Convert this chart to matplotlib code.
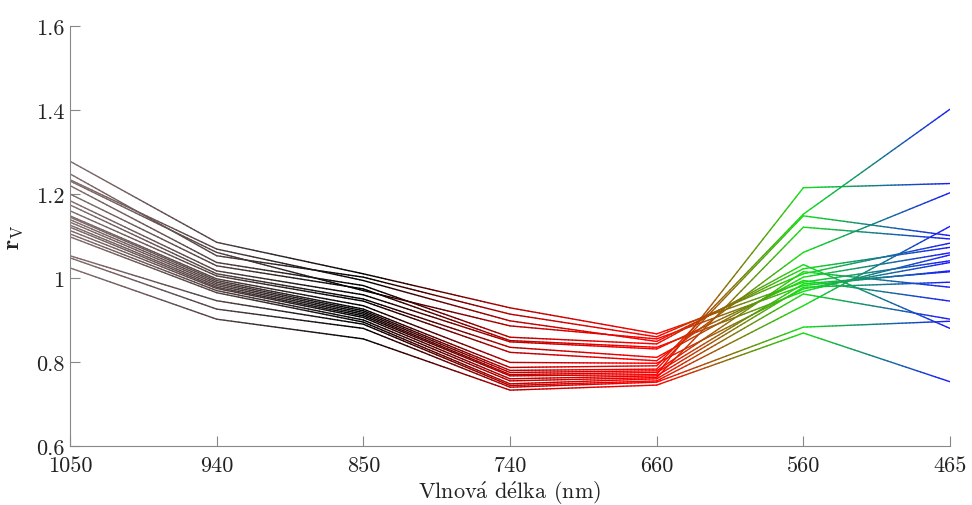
import numpy as np
import matplotlib
matplotlib.use("Agg")
import matplotlib.pyplot as plt
from matplotlib.collections import LineCollection
from matplotlib.colors import to_rgb

plt.rcParams["font.family"] = "serif"
plt.rcParams["font.serif"] = ["cmr10", "DejaVu Serif"]
plt.rcParams["mathtext.fontset"] = "cm"
plt.rcParams["axes.formatter.use_mathtext"] = True

# wavelength channels (plotted at equal spacing)
wavelengths = ["1050", "940", "850", "740", "660", "560", "465"]
channel_colors = ["#826c6c", "#544242", "#000000", "#b80000", "#ff0000", "#12e012", "#1a1aff"]

# relative reflectance r_V per sample, one row per sample
r_v = [
    [1.278, 1.085, 1.010, 0.929, 0.867, 0.990, 1.041],
    [1.248, 1.053, 1.002, 0.914, 0.860, 1.010, 1.083],
    [1.234, 1.069, 0.994, 0.898, 0.849, 1.022, 1.073],
    [1.231, 1.061, 0.970, 0.886, 0.855, 0.982, 1.017],
    [1.220, 1.037, 0.982, 0.859, 0.843, 1.032, 0.880],
    [1.200, 1.029, 0.974, 0.851, 0.835, 0.968, 1.055],
    [1.184, 1.017, 0.960, 0.848, 0.831, 0.994, 0.945],
    [1.174, 1.010, 0.950, 0.835, 0.811, 1.002, 1.060],
    [1.160, 1.005, 0.945, 0.823, 0.803, 1.061, 1.203],
    [1.148, 0.998, 0.934, 0.799, 0.797, 0.974, 1.037],
    [1.145, 0.994, 0.926, 0.787, 0.791, 1.152, 1.402],
    [1.139, 0.990, 0.922, 0.780, 0.783, 1.148, 1.101],
    [1.133, 0.986, 0.918, 0.775, 0.779, 1.015, 0.978],
    [1.126, 0.982, 0.914, 0.770, 0.775, 0.986, 1.015],
    [1.121, 0.978, 0.910, 0.767, 0.770, 1.215, 1.225],
    [1.113, 0.975, 0.906, 0.760, 0.767, 0.978, 0.990],
    [1.105, 0.970, 0.900, 0.755, 0.763, 1.121, 1.093],
    [1.098, 0.965, 0.895, 0.748, 0.760, 0.962, 0.902],
    [1.053, 0.946, 0.890, 0.744, 0.755, 0.934, 1.123],
    [1.048, 0.926, 0.880, 0.740, 0.752, 0.883, 0.897],
    [1.024, 0.902, 0.855, 0.733, 0.745, 0.869, 0.753],
]

y_ticks = [0.6, 0.8, 1.0, 1.2, 1.4, 1.6]
y_tick_labels = ["0.6", "0.8", "1", "1.2", "1.4", "1.6"]


def gradient_segments(y, colors, n_sub=40):
    """Split a polyline into short pieces with colours blended between nodes."""
    segs, cols = [], []
    rgb = [np.array(to_rgb(c)) for c in colors]
    for i in range(len(y) - 1):
        t = np.linspace(0, 1, n_sub + 1)
        xs = i + t
        ys = y[i] + (y[i + 1] - y[i]) * t
        for k in range(n_sub):
            segs.append([(xs[k], ys[k]), (xs[k + 1], ys[k + 1])])
            tm = 0.5 * (t[k] + t[k + 1])
            cols.append(rgb[i] * (1 - tm) + rgb[i + 1] * tm)
    return segs, cols


fig = plt.figure(figsize=(9.72, 5.06), dpi=100)
ax = fig.add_axes([0.072, 0.1166, 0.9054, 0.83])

for row in r_v:
    segs, cols = gradient_segments(row, channel_colors)
    lc = LineCollection(segs, colors=cols, linewidth=1.0, capstyle="round")
    ax.add_collection(lc)

ax.set_xlim(0, len(wavelengths) - 1)
ax.set_ylim(0.6, 1.6)
ax.set_xticks(range(len(wavelengths)))
ax.set_xticklabels(wavelengths)
ax.set_yticks(y_ticks)
ax.set_yticklabels(y_tick_labels)

for side in ("top", "right"):
    ax.spines[side].set_visible(False)
for side in ("left", "bottom"):
    ax.spines[side].set_color("#888888")
    ax.spines[side].set_linewidth(0.8)

ax.tick_params(direction="in", length=7, width=0.8, color="#888888",
               labelsize=16, labelcolor="#222222")
ax.tick_params(axis="y", pad=4)
ax.tick_params(axis="x", pad=7)

ax.set_xlabel(r"Vlnov$\mathrm{\acute{a}}$ d$\mathrm{\acute{e}}$lka (nm)",
              fontsize=16, color="#222222", labelpad=3)
ax.set_ylabel(r"$\mathbf{r}_{\mathrm{V}}$", fontsize=17, color="#222222", labelpad=8)

fig.savefig("out.png", dpi=100)
